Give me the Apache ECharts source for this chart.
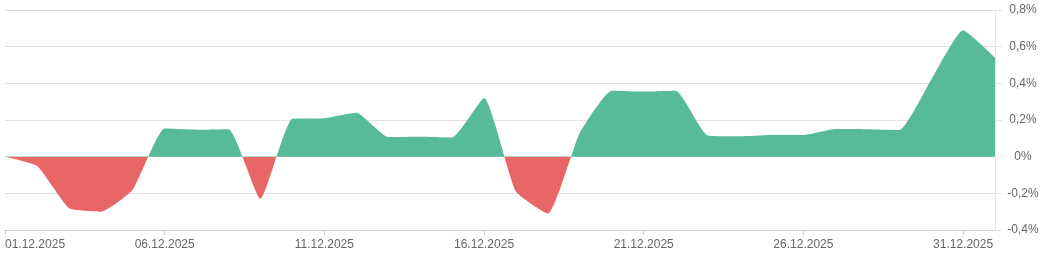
<!DOCTYPE html>
<html><head><meta charset="utf-8">
<script src="https://cdn.jsdelivr.net/npm/echarts@6/dist/echarts.min.js"></script>
<style>html,body{margin:0;padding:0;background:#fff}#c{width:1046px;height:264px}</style>
</head><body><div id="c"></div>
<script>
const categories = ['01.12.2025','02.12.2025','03.12.2025','04.12.2025','05.12.2025','06.12.2025','07.12.2025','08.12.2025','09.12.2025','10.12.2025','11.12.2025','12.12.2025','13.12.2025','14.12.2025','15.12.2025','16.12.2025','17.12.2025','18.12.2025','19.12.2025','20.12.2025','21.12.2025','22.12.2025','23.12.2025','24.12.2025','25.12.2025','26.12.2025','27.12.2025','28.12.2025','29.12.2025','30.12.2025','31.12.2025','01.01.2026'];
const values = [0, -0.05, -0.28, -0.30, -0.18, 0.153, 0.147, 0.15, -0.23, 0.207, 0.21, 0.24, 0.107, 0.109, 0.105, 0.32, -0.19, -0.31, 0.13, 0.36, 0.355, 0.36, 0.116, 0.111, 0.118, 0.118, 0.151, 0.15, 0.145, 0.42, 0.69, 0.54];
const yTicks = [-0.4, -0.2, 0, 0.2, 0.4, 0.6, 0.8];
const posColor = '#57bb99', negColor = '#e86666';

const yMin = yTicks[0], yMax = yTicks[yTicks.length - 1];
const gridTop = 10, gridBottom = 34, H = 264;
const zeroOff = (yMax - 0) / (yMax - yMin);
const fill = new echarts.graphic.LinearGradient(0, gridTop, 0, H - gridBottom, [
  {offset: 0, color: posColor}, {offset: zeroOff, color: posColor},
  {offset: zeroOff, color: negColor}, {offset: 1, color: negColor}
], true);

const chart = echarts.init(document.getElementById('c'), null, {renderer: 'canvas'});
chart.setOption({
  animation: false,
  grid: {left: 5, right: 51, top: gridTop, bottom: gridBottom},
  xAxis: {
    type: 'category', data: categories, boundaryGap: false,
    axisLine: {onZero: false, lineStyle: {color: '#cccccc'}},
    axisTick: {show: true, interval: 4, length: 5, lineStyle: {color: '#cccccc'}},
    axisLabel: {interval: 4, color: '#666666', fontSize: 12, fontFamily: 'Liberation Sans, Arial, sans-serif', margin: 9, alignMinLabel: 'left'},
    splitLine: {show: false}
  },
  yAxis: {
    type: 'value', position: 'right', min: yMin, max: yMax, interval: 0.2,
    axisLine: {show: true, lineStyle: {color: '#e6e6e6'}},
    axisTick: {show: true, length: 7, lineStyle: {color: '#e6e6e6'}},
    splitLine: {lineStyle: {color: '#e0e0e0'}},
    axisLabel: {
      color: '#666666', fontSize: 12, fontFamily: 'Liberation Sans, Arial, sans-serif',
      align: 'center', margin: 28,
      formatter: v => (Math.round(v * 10) / 10).toString().replace('.', ',') + '%'
    }
  },
  series: [{
    type: 'line', data: values, smooth: 0.15, symbol: 'none',
    lineStyle: {width: 0},
    areaStyle: {opacity: 1, color: fill, origin: 'auto'}
  }]
});
</script></body></html>
